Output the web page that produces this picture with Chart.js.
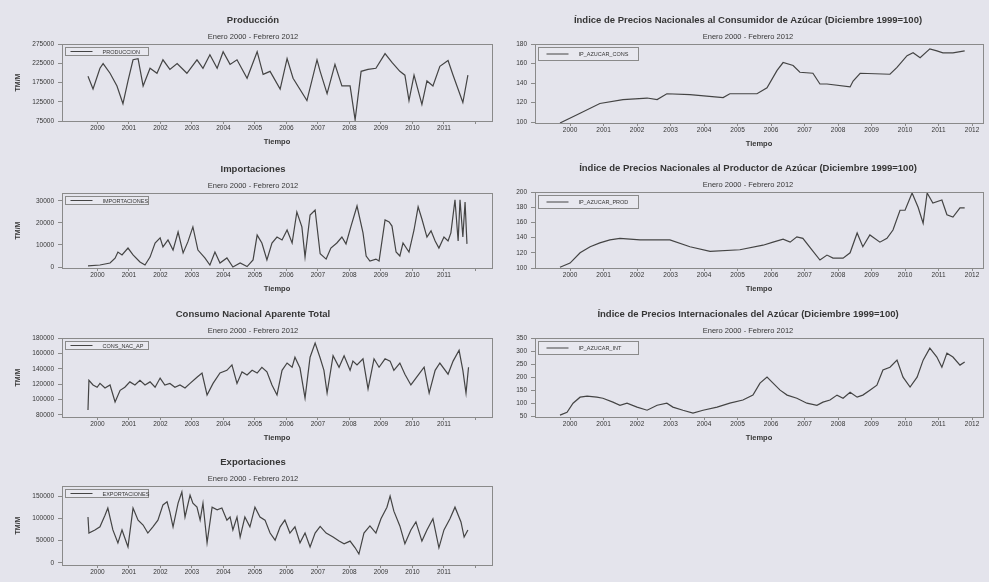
<!DOCTYPE html>
<html lang="es">
<head>
<meta charset="utf-8">
<title>Azúcar - series mensuales</title>
<script src="https://cdn.jsdelivr.net/npm/chart.js@4.4.1/dist/chart.umd.min.js"></script>
<style>
body { margin: 0; width: 989px; height: 582px; overflow: hidden; position: relative; background: #e4e4ec; }
canvas { position: absolute; filter: blur(0.4px); }
</style>
</head>
<body>
<canvas id="p1"></canvas>
<canvas id="p2"></canvas>
<canvas id="p3"></canvas>
<canvas id="p4"></canvas>
<canvas id="p5"></canvas>
<canvas id="p6"></canvas>
<canvas id="p7"></canvas>
<script>
// fechas en años decimales (enero 2000 = 2000.00)
var produccionT = [2000.00,2000.16,2000.38,2000.48,2000.70,2000.92,2001.11,2001.27,2001.43,2001.59,2001.75,2001.97,2002.19,2002.38,2002.60,2002.83,2003.14,2003.46,2003.65,2003.87,2004.10,2004.29,2004.51,2004.73,2005.05,2005.37,2005.56,2005.78,2006.10,2006.32,2006.51,2006.95,2007.27,2007.37,2007.59,2007.84,2008.06,2008.32,2008.48,2008.67,2008.89,2009.14,2009.43,2009.65,2009.90,2010.06,2010.19,2010.35,2010.60,2010.76,2010.95,2011.17,2011.43,2011.59,2011.90,2012.06];
var produccionV = [191000,158000,212000,224000,199000,166000,120000,179000,234000,237000,166000,212000,199000,234000,209000,224000,199000,234000,212000,247000,212000,255000,222000,234000,186000,255000,196000,204000,158000,237000,186000,128000,234000,204000,146000,222000,166000,166000,78000,204000,209000,212000,250000,227000,204000,194000,128000,194000,118000,179000,166000,217000,232000,194000,123000,194000];

var importT = [2000.00,2000.38,2000.70,2000.86,2000.95,2001.08,2001.27,2001.43,2001.65,2001.81,2001.97,2002.13,2002.29,2002.38,2002.54,2002.70,2002.86,2003.02,2003.17,2003.33,2003.49,2003.71,2003.87,2004.03,2004.19,2004.41,2004.60,2004.83,2005.05,2005.24,2005.37,2005.52,2005.68,2005.84,2006.00,2006.16,2006.32,2006.48,2006.63,2006.79,2006.89,2007.05,2007.21,2007.37,2007.56,2007.71,2007.90,2008.06,2008.19,2008.35,2008.54,2008.73,2008.83,2008.95,2009.14,2009.24,2009.43,2009.56,2009.65,2009.78,2009.90,2010.00,2010.19,2010.35,2010.48,2010.60,2010.76,2010.89,2011.02,2011.14,2011.30,2011.43,2011.52,2011.65,2011.75,2011.81,2011.90,2011.97,2012.03];
var importV = [500,900,1800,4000,6800,5500,8600,5500,2300,900,4500,10900,13200,9100,12300,7700,15900,6400,11400,18200,7700,4100,900,6800,1800,4100,0,1800,200,3200,14500,10900,3200,10900,13600,12300,16800,10900,25000,18200,4500,23600,25900,6000,3600,8600,10900,13600,10500,18600,27700,15500,5000,2700,3600,2700,21400,20500,18600,6800,5000,10900,6800,16800,27300,21800,13600,16400,11800,8600,13600,11800,15500,30500,11800,30500,13600,29500,10500];

var consumoT = [2000.00,2000.03,2000.16,2000.29,2000.38,2000.54,2000.70,2000.86,2001.02,2001.17,2001.33,2001.49,2001.65,2001.81,2001.97,2002.13,2002.29,2002.44,2002.60,2002.76,2002.92,2003.08,2003.24,2003.46,2003.62,2003.78,2003.97,2004.19,2004.41,2004.57,2004.73,2004.89,2005.05,2005.21,2005.37,2005.52,2005.68,2005.84,2006.00,2006.16,2006.32,2006.48,2006.57,2006.73,2006.89,2007.05,2007.21,2007.37,2007.49,2007.59,2007.78,2007.97,2008.13,2008.32,2008.41,2008.54,2008.73,2008.89,2009.08,2009.24,2009.43,2009.59,2009.71,2009.90,2010.06,2010.25,2010.41,2010.67,2010.83,2011.02,2011.17,2011.43,2011.59,2011.78,2011.90,2012.00,2012.08];
var consumoV = [86500,125000,119000,116000,121000,115000,119000,97000,112000,116000,123000,119000,125000,119000,123000,116000,128000,119000,121000,116000,119000,115000,121000,129000,134500,106000,121000,134500,138000,145000,121000,136000,132000,138000,134500,142000,136000,119000,106000,138000,147500,142000,155000,141000,102000,155000,173500,154000,138000,108500,157000,142000,157000,138000,150000,145000,153000,114000,153000,142000,153000,150000,138000,147500,133000,119000,128000,142000,108500,138000,147500,133000,150000,164000,138000,108500,142000];

var exportT = [2000.00,2000.03,2000.22,2000.38,2000.54,2000.63,2000.79,2000.95,2001.08,2001.27,2001.43,2001.59,2001.75,2001.90,2002.06,2002.22,2002.38,2002.51,2002.60,2002.70,2002.86,2002.98,2003.08,2003.24,2003.33,2003.46,2003.56,2003.65,2003.78,2003.94,2004.10,2004.25,2004.41,2004.51,2004.60,2004.73,2004.83,2004.98,2005.14,2005.30,2005.46,2005.62,2005.78,2005.94,2006.10,2006.25,2006.41,2006.57,2006.73,2006.89,2007.05,2007.21,2007.37,2007.56,2007.78,2007.97,2008.13,2008.32,2008.48,2008.60,2008.76,2008.95,2009.14,2009.30,2009.49,2009.59,2009.71,2009.90,2010.06,2010.25,2010.41,2010.60,2010.76,2010.95,2011.14,2011.30,2011.49,2011.65,2011.84,2011.94,2012.06];
var exportV = [103000,67000,74000,81000,107000,123000,74000,45000,74000,36000,123000,96000,85000,67000,81000,96000,130000,137000,114000,81000,134000,159000,103000,152000,134000,125000,96000,134000,45000,125000,119000,123000,96000,103000,74000,103000,58000,103000,81000,125000,103000,96000,67000,51000,81000,96000,67000,81000,45000,67000,36000,67000,82000,67000,58000,49000,43000,49000,34000,20000,67000,83000,67000,99000,125000,150000,116000,83000,43000,74000,92000,49000,74000,99000,34000,74000,99000,125000,92000,58000,74000];

var consumidorT = [2000.00,2000.60,2001.19,2001.88,2002.60,2002.90,2003.19,2003.88,2004.87,2005.07,2005.88,2006.18,2006.48,2006.66,2006.96,2007.16,2007.55,2007.76,2007.97,2008.66,2008.75,2008.96,2009.85,2010.06,2010.36,2010.54,2010.75,2011.04,2011.25,2011.43,2011.73,2012.08];
var consumidorV = [99,109,119,123,124.6,123,129,128,125,129,129,135,153,161,158,151,150,139,139,136,142,150,149,156,168,171,166,175,173,171,171,173];

var productorT = [2000.00,2000.30,2000.60,2000.90,2001.19,2001.49,2001.79,2002.39,2003.28,2003.88,2004.48,2005.37,2006.06,2006.36,2006.66,2006.87,2007.07,2007.25,2007.52,2007.76,2007.97,2008.15,2008.45,2008.66,2008.87,2009.04,2009.25,2009.55,2009.76,2009.94,2010.15,2010.30,2010.51,2010.69,2010.84,2010.96,2011.13,2011.40,2011.55,2011.73,2011.94,2012.08];
var productorV = [101,106.5,120,128,133,137,139,137,137,128,122,124,130,134,138,134,141,139,124,110.5,117,113,113,120,146,128,143.5,134,139,150,176,176,198.7,180,159,198.7,185.5,189.5,170,167,179,179];

var internacionalT = [2000.00,2000.21,2000.39,2000.60,2000.81,2001.10,2001.28,2001.58,2001.79,2002.00,2002.30,2002.60,2002.90,2003.19,2003.37,2003.67,2003.97,2004.27,2004.69,2005.07,2005.46,2005.76,2005.97,2006.18,2006.36,2006.57,2006.78,2007.07,2007.37,2007.67,2007.85,2008.06,2008.27,2008.45,2008.66,2008.87,2009.04,2009.25,2009.46,2009.64,2009.85,2010.06,2010.24,2010.45,2010.66,2010.84,2011.04,2011.25,2011.40,2011.55,2011.73,2011.94,2012.08];
var internacionalV = [54,65,100,123,127,123,119,104,92,100,85,73,92,100,85,73,62,73,85,100,112,131,177,200,177,150,131,119,100,92,104,112,131,119,142,123,131,150,169,227,238,265,200,162,200,265,311,277,238,292,277,246,258];

// marcas de los ejes
var produccionTicks = [75000,125000,175000,225000,275000];
var importTicks = [0,10000,20000,30000];
var consumoTicks = [80000,100000,120000,140000,160000,180000];
var exportTicks = [0,50000,100000,150000];
var consumidorTicks = [100,120,140,160,180];
var productorTicks = [100,120,140,160,180,200];
var internacionalTicks = [50,100,150,200,250,300,350];
var years = [2000,2001,2002,2003,2004,2005,2006,2007,2008,2009,2010,2011,2012];
var leftYearLabels = ['2000','2001','2002','2003','2004','2005','2006','2007','2008','2009','2010','2011',''];
var rightYearLabels = ['2000','2001','2002','2003','2004','2005','2006','2007','2008','2009','2010','2011','2012'];
var subtitleText = 'Enero 2000 - Febrero 2012';

var FONT = '"Liberation Sans", Arial, sans-serif';
var TEXT = '#363636';
var LINE = '#444444';
var FRAME = '#8a8a8a';

var LEFT = { left: 0, width: 506, padL: 14, padR: 14, yWidth: 48, xMin: 1999.175, xMax: 2012.825, yTitle: 'TM/M', labels: leftYearLabels, legendW: 83, legendH: 8, lineX: 5, textX: 37 };
var RIGHT = { left: 490, width: 499, padL: 23, padR: 6, yWidth: 22, xMin: 1999.254, xMax: 2012.627, yTitle: '', labels: rightYearLabels, legendW: 100, legendH: 13, lineX: 8, textX: 40 };

var panels = [
    { id: 'p1', col: LEFT, top: 44, bottom: 121, title: 'Producción', name: 'PRODUCCION', t: produccionT, v: produccionV, yMin: 75000, yMax: 275000, yTicks: produccionTicks },
    { id: 'p2', col: LEFT, top: 193, bottom: 268, title: 'Importaciones', name: 'IMPORTACIONES', t: importT, v: importV, yMin: -450, yMax: 33600, yTicks: importTicks },
    { id: 'p3', col: LEFT, top: 338, bottom: 417, title: 'Consumo Nacional Aparente Total', name: 'CONS_NAC_AP', t: consumoT, v: consumoV, yMin: 77400, yMax: 180000, yTicks: consumoTicks },
    { id: 'p4', col: LEFT, top: 486, bottom: 565, title: 'Exportaciones', name: 'EXPORTACIONES', t: exportT, v: exportV, yMin: -4500, yMax: 172400, yTicks: exportTicks },
    { id: 'p5', col: RIGHT, top: 44, bottom: 123, title: 'Índice de Precios Nacionales al Consumidor de Azúcar (Diciembre 1999=100)', name: 'IP_AZUCAR_CONS', t: consumidorT, v: consumidorV, yMin: 99, yMax: 180, yTicks: consumidorTicks },
    { id: 'p6', col: RIGHT, top: 192, bottom: 268, title: 'Índice de Precios Nacionales al Productor de Azúcar (Diciembre 1999=100)', name: 'IP_AZUCAR_PROD', t: productorT, v: productorV, yMin: 100, yMax: 200, yTicks: productorTicks },
    { id: 'p7', col: RIGHT, top: 338, bottom: 417, title: 'Índice de Precios Internacionales del Azúcar (Diciembre 1999=100)', name: 'IP_AZUCAR_INT', t: internacionalT, v: internacionalV, yMin: 47, yMax: 350, yTicks: internacionalTicks }
];

// marco del grafico y leyenda en la esquina superior izquierda
var frameLegend = {
    id: 'frameLegend',
    afterDraw: function (chart, args, opts) {
        var a = chart.chartArea;
        var ctx = chart.ctx;
        ctx.save();
        ctx.strokeStyle = FRAME;
        ctx.lineWidth = 1;
        ctx.strokeRect(Math.round(a.left) + 0.5, Math.round(a.top) + 0.5, Math.round(a.right - a.left), Math.round(a.bottom - a.top));
        var bx = Math.round(a.left) + 3.5;
        var by = Math.round(a.top) + 3.5;
        ctx.fillStyle = '#e8e8ef';
        ctx.fillRect(bx, by, opts.w, opts.h);
        ctx.strokeRect(bx, by, opts.w, opts.h);
        var my = by + opts.h / 2;
        ctx.strokeStyle = LINE;
        ctx.beginPath();
        ctx.moveTo(bx + opts.lineX, my);
        ctx.lineTo(bx + opts.lineX + 22, my);
        ctx.stroke();
        ctx.fillStyle = TEXT;
        ctx.font = '5.5px ' + FONT;
        ctx.textBaseline = 'middle';
        ctx.fillText(opts.name, bx + opts.textX, my + 0.5);
        ctx.restore();
    }
};

function tickFont() {
    return { family: FONT, size: 6.5 };
}

function makeChart(p) {
    var col = p.col;
    var canvas = document.getElementById(p.id);
    canvas.width = col.width;
    canvas.height = p.bottom - p.top + 44 + 26;
    canvas.style.left = col.left + 'px';
    canvas.style.top = (p.top - 44) + 'px';
    var points = [];
    for (var i = 0; i < Math.min(p.t.length, p.v.length); i++) {
        points.push({ x: p.t[i], y: p.v[i] });
    }
    return new Chart(canvas, {
        type: 'line',
        data: {
            datasets: [{
                label: p.name,
                data: points,
                borderColor: LINE,
                borderWidth: 1.2,
                pointRadius: 0,
                tension: 0,
                fill: false
            }]
        },
        options: {
            responsive: false,
            animation: false,
            layout: { padding: { left: col.padL, right: col.padR, top: 0, bottom: 0 } },
            plugins: {
                legend: { display: false },
                tooltip: { enabled: false },
                title: {
                    display: true, text: p.title, color: TEXT,
                    font: { family: FONT, size: 9.5, weight: 'bold', lineHeight: 1.2 },
                    padding: { top: 14.3, bottom: 6.8 }
                },
                subtitle: {
                    display: true, text: subtitleText, color: TEXT,
                    font: { family: FONT, size: 7.5, lineHeight: 1.2 },
                    padding: { top: 0, bottom: 2.5 }
                },
                frameLegend: { name: p.name, w: col.legendW, h: col.legendH, lineX: col.lineX, textX: col.textX }
            },
            scales: {
                x: {
                    type: 'linear',
                    min: col.xMin,
                    max: col.xMax,
                    afterFit: function (s) { s.height = 26; },
                    afterBuildTicks: function (s) {
                        s.ticks = years.map(function (y) { return { value: y + 0.3 }; });
                    },
                    ticks: {
                        autoSkip: false, maxRotation: 0, padding: 0, color: TEXT, font: tickFont(),
                        callback: function (v, i) { return col.labels[i] || ''; }
                    },
                    grid: { drawOnChartArea: false, drawTicks: true, tickLength: 3, color: FRAME },
                    border: { display: false },
                    title: {
                        display: true, text: 'Tiempo', color: TEXT,
                        font: { family: FONT, size: 7.5, weight: 'bold', lineHeight: 1.2 },
                        padding: { top: 6, bottom: 0.5 }
                    }
                },
                y: {
                    min: p.yMin,
                    max: p.yMax,
                    afterFit: function (s) { s.width = col.yWidth; },
                    afterBuildTicks: function (s) {
                        s.ticks = p.yTicks.map(function (v) { return { value: v }; });
                    },
                    ticks: {
                        padding: 4, color: TEXT, font: tickFont(),
                        callback: function (v) { return String(v); }
                    },
                    grid: { drawOnChartArea: false, drawTicks: true, tickLength: 4, color: FRAME },
                    border: { display: false },
                    title: {
                        display: col.yTitle !== '', text: col.yTitle, color: TEXT,
                        font: { family: FONT, size: 7, weight: 'bold', lineHeight: 1.2 },
                        padding: { top: 0, bottom: 0 }
                    }
                }
            }
        },
        plugins: [frameLegend]
    });
}

panels.forEach(makeChart);
</script>
</body>
</html>
